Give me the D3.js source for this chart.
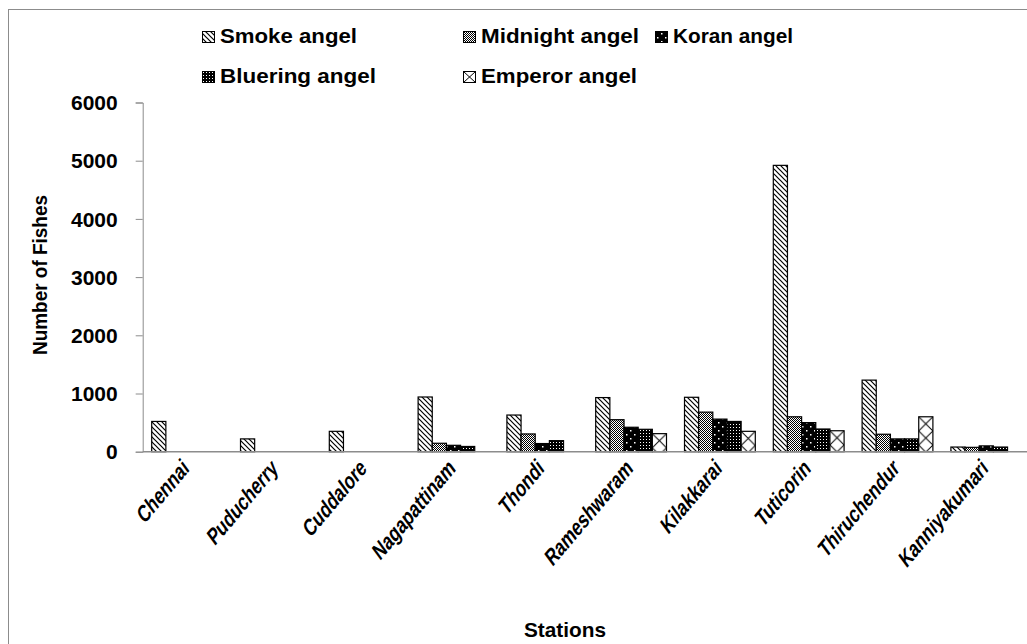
<!DOCTYPE html>
<html lang="en">
<head>
<meta charset="utf-8">
<title>Angel fishes by station</title>
<script src="https://d3js.org/d3.v7.min.js"></script>
<style>
    body { margin: 0; background: #fff; }
    svg text { font-family: "Liberation Sans", Arial, sans-serif; font-weight: bold; fill: #000; }
</style>
</head>
<body>
<svg id="chart" width="1027" height="644"></svg>
<script>
    const stations = ["Chennai", "Puducherry", "Cuddalore", "Nagapattinam", "Thondi",
        "Rameshwaram", "Kilakkarai", "Tuticorin", "Thiruchendur", "Kanniyakumari"];
    const seriesNames = ["Smoke angel", "Midnight angel", "Koran angel", "Bluering angel", "Emperor angel"];
    const smoke = [520, 220, 350, 940, 630, 930, 935, 4920, 1230, 80];
    const midnight = [0, 0, 0, 145, 305, 550, 680, 600, 300, 75];
    const koran = [0, 0, 0, 110, 140, 420, 560, 500, 220, 100];
    const bluering = [0, 0, 0, 90, 190, 385, 520, 390, 220, 80];
    const emperor = [0, 0, 0, 0, 0, 310, 350, 360, 600, 0];
    const yTicks = [0, 1000, 2000, 3000, 4000, 5000, 6000];

    const values = [smoke, midnight, koran, bluering, emperor];
    const patIds = ["p-smoke", "p-midnight", "p-koran", "p-bluering", "p-emperor"];

    const svg = d3.select("#chart");
    const defs = svg.append("defs");

    // fill patterns (black & white like the original)
    let p = defs.append("pattern").attr("id", "p-smoke").attr("patternUnits", "userSpaceOnUse")
        .attr("width", 5).attr("height", 5);
    p.append("rect").attr("width", 5).attr("height", 5).attr("fill", "#fff");
    p.append("path").attr("d", "M-1,-1L6,6M-1,4L1,6M4,-1L6,1").attr("stroke", "#000").attr("stroke-width", 1.2);

    p = defs.append("pattern").attr("id", "p-midnight").attr("patternUnits", "userSpaceOnUse")
        .attr("width", 2).attr("height", 2);
    p.append("rect").attr("width", 2).attr("height", 2).attr("fill", "#fff");
    p.append("rect").attr("width", 1).attr("height", 1).attr("fill", "#000");
    p.append("rect").attr("x", 1).attr("y", 1).attr("width", 1).attr("height", 1).attr("fill", "#000");

    p = defs.append("pattern").attr("id", "p-koran").attr("patternUnits", "userSpaceOnUse")
        .attr("width", 8).attr("height", 8);
    p.append("rect").attr("width", 8).attr("height", 8).attr("fill", "#000");
    p.append("rect").attr("x", 2).attr("y", 2).attr("width", 1.5).attr("height", 1.5).attr("fill", "#fff");
    p.append("rect").attr("x", 6).attr("y", 6).attr("width", 1.5).attr("height", 1.5).attr("fill", "#fff");

    p = defs.append("pattern").attr("id", "p-bluering").attr("patternUnits", "userSpaceOnUse")
        .attr("width", 3).attr("height", 3);
    p.append("rect").attr("width", 3).attr("height", 3).attr("fill", "#000");
    p.append("rect").attr("x", 1).attr("y", 1).attr("width", 1).attr("height", 1).attr("fill", "#fff");

    // outer frame
    svg.append("rect").attr("x", 8.5).attr("y", 9.5).attr("width", 1040).attr("height", 660)
        .attr("fill", "none").attr("stroke", "#8c8c8c");

    const x = d3.scaleBand().domain(stations).range([142.7, 1030.7]).paddingInner(0).paddingOuter(0);
    const xs = d3.scaleBand().domain(seriesNames).range([0, x.bandwidth()]).paddingOuter(0.636);
    const y = d3.scaleLinear().domain([0, 6000]).range([451.7, 102.5]);
    const bw = xs.bandwidth();

    // y axis
    const yAxis = svg.append("g").attr("transform", "translate(142.7,0)")
        .call(d3.axisLeft(y).tickValues(yTicks).tickSize(7).tickPadding(18).tickFormat(d3.format("d")));
    yAxis.select(".domain").attr("stroke", "#8c8c8c");
    yAxis.selectAll(".tick line").attr("stroke", "#8c8c8c");
    yAxis.selectAll(".tick text").attr("font-size", 21).attr("dy", "0.34em")
        .style("font-family", "'Liberation Sans', Arial, sans-serif").style("font-weight", "bold");

    // emperor needs a cross pattern lined up with each bar
    stations.forEach((s, i) => {
        const bx = x(s) + xs("Emperor angel");
        const pe = defs.append("pattern").attr("id", "p-emperor-" + i).attr("patternUnits", "userSpaceOnUse")
            .attr("x", bx).attr("y", y(emperor[i])).attr("width", bw).attr("height", bw);
        pe.append("rect").attr("width", bw).attr("height", bw).attr("fill", "#fff");
        pe.append("path").attr("d", `M0,0L${bw},${bw}M${bw},0L0,${bw}`).attr("stroke", "#000").attr("stroke-width", 1);
    });

    // bars
    seriesNames.forEach((name, k) => {
        svg.append("g").selectAll("rect")
            .data(stations.map((s, i) => ({s: s, i: i, v: values[k][i]})).filter(d => d.v > 0))
            .join("rect")
            .attr("x", d => x(d.s) + xs(name))
            .attr("y", d => y(d.v))
            .attr("width", bw)
            .attr("height", d => y(0) - y(d.v))
            .attr("fill", d => k === 4 ? "url(#p-emperor-" + d.i + ")" : "url(#" + patIds[k] + ")")
            .attr("stroke", "#000")
            .attr("stroke-width", 1.2);
    });

    // x axis line
    svg.append("line").attr("x1", 142.7).attr("x2", 1030).attr("y1", 451.7).attr("y2", 451.7)
        .attr("stroke", "#8c8c8c").attr("stroke-width", 1.5);

    // category labels
    svg.append("g").selectAll("text").data(stations).join("text")
        .attr("transform", d => `translate(${x(d) + x.bandwidth() / 2 + 3},${470}) rotate(-50) skewX(-14) scale(1,1.2)`)
        .attr("text-anchor", "end")
        .attr("font-size", 18)
        .text(d => d);

    // axis titles
    svg.append("text").attr("transform", "translate(47,275) rotate(-90)")
        .attr("text-anchor", "middle").attr("font-size", 21)
        .attr("textLength", 160).attr("lengthAdjust", "spacingAndGlyphs")
        .text("Number of Fishes");
    svg.append("text").attr("x", 565).attr("y", 637)
        .attr("text-anchor", "middle").attr("font-size", 21)
        .attr("textLength", 82).attr("lengthAdjust", "spacingAndGlyphs")
        .text("Stations");

    // legend
    const legX = [202, 463, 655, 202, 463];
    const legY = [43, 43, 43, 83, 83];
    const legW = [137, 158, 120, 156, 156];
    const leg = svg.append("g").selectAll("g").data(seriesNames).join("g")
        .attr("transform", (d, k) => `translate(${legX[k]},${legY[k]})`);
    leg.append("rect").attr("x", 0.5).attr("y", -11.5).attr("width", 12).attr("height", 11)
        .attr("fill", (d, k) => k === 4 ? "#fff" : "url(#" + patIds[k] + ")")
        .attr("stroke", "#000").attr("stroke-width", 1);
    leg.filter((d, k) => k === 4).append("path")
        .attr("d", "M0.5,-11.5L12.5,-0.5M12.5,-11.5L0.5,-0.5").attr("stroke", "#000").attr("fill", "none");
    leg.append("text").attr("x", 18).attr("y", 0).attr("font-size", 21)
        .attr("textLength", (d, k) => legW[k]).attr("lengthAdjust", "spacingAndGlyphs")
        .text(d => d);
</script>
</body>
</html>
